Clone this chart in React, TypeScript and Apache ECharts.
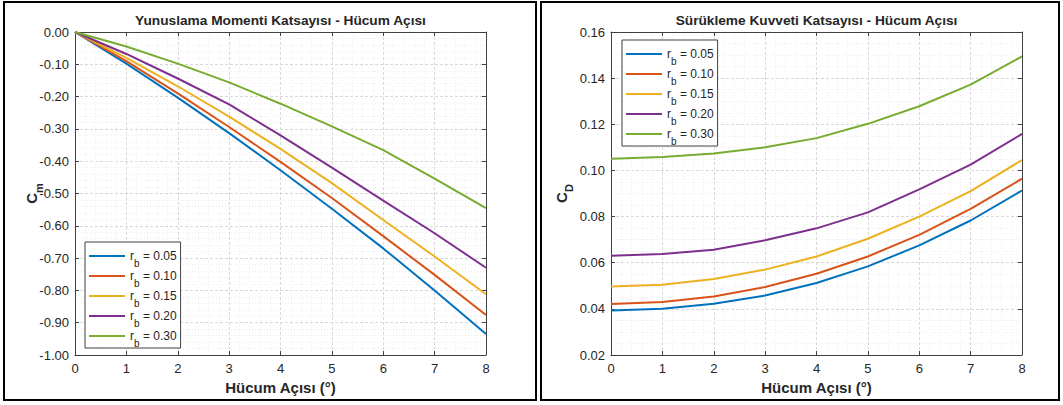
import React, { useEffect, useRef } from "react";
import * as echarts from "echarts";

const ANGLES = [0, 1, 2, 3, 4, 5, 6, 7, 8];
const RB_LABELS = ["0.05", "0.10", "0.15", "0.20", "0.30"];
const COLORS = ["#0072BD", "#D95319", "#EDB120", "#7E2F8E", "#77AC30"];

// Pitching moment coefficient C_m
const CM_005 = [0, -0.098, -0.203, -0.313, -0.428, -0.547, -0.670, -0.800, -0.935];
const CM_010 = [0, -0.090, -0.190, -0.294, -0.402, -0.514, -0.632, -0.752, -0.876];
const CM_015 = [0, -0.080, -0.168, -0.262, -0.362, -0.468, -0.582, -0.695, -0.812];
const CM_020 = [0, -0.068, -0.144, -0.224, -0.320, -0.420, -0.522, -0.623, -0.730];
const CM_030 = [0, -0.045, -0.098, -0.156, -0.222, -0.292, -0.366, -0.454, -0.545];

// Drag coefficient C_D
const CD_005 = [0.0393, 0.0400, 0.0422, 0.0458, 0.0512, 0.0584, 0.0675, 0.0783, 0.0913];
const CD_010 = [0.0421, 0.0430, 0.0454, 0.0495, 0.0552, 0.0627, 0.0721, 0.0833, 0.0964];
const CD_015 = [0.0497, 0.0505, 0.0529, 0.0570, 0.0627, 0.0704, 0.0800, 0.0910, 0.1045];
const CD_020 = [0.0630, 0.0638, 0.0656, 0.0697, 0.0749, 0.0818, 0.0918, 0.1025, 0.1158];
const CD_030 = [0.1051, 0.1058, 0.1073, 0.1100, 0.1140, 0.1202, 0.1278, 0.1372, 0.1494];

const CM_SERIES = [CM_005, CM_010, CM_015, CM_020, CM_030];
const CD_SERIES = [CD_005, CD_010, CD_015, CD_020, CD_030];

const TITLE_LEFT = "Yunuslama Momenti Katsayısı - Hücum Açısı";
const TITLE_RIGHT = "Sürükleme Kuvveti Katsayısı - Hücum Açısı";
const X_NAME = "Hücum Açısı (°)";

const FONT = "'Liberation Sans', Arial, Helvetica, sans-serif";
const TEXT = "#262626";
const AXIS = "#404040";

const seriesName = (lbl: string) => "r_b = " + lbl;

export default function App() {
  const ref = useRef<HTMLDivElement>(null);
  useEffect(() => {
    if (!ref.current) return;
    const chart = echarts.init(ref.current, null, { renderer: "svg" });

    const grids = [
      { left: 75, top: 32, width: 411, height: 323 },
      { left: 611, top: 32, width: 411, height: 323 },
    ];

    const xBottom = (g: number) => ({
      type: "value",
      gridIndex: g,
      min: 0,
      max: 8,
      interval: 1,
      position: "bottom",
      name: X_NAME,
      nameLocation: "middle",
      nameGap: 25,
      nameMoveOverlap: false,
      nameTextStyle: { fontSize: 15, fontWeight: "bold", color: TEXT, fontFamily: FONT },
      axisLine: { show: true, onZero: false, lineStyle: { color: AXIS, width: 1 } },
      axisTick: { show: true, inside: true, length: 4, lineStyle: { color: AXIS } },
      axisLabel: { fontSize: 13, color: TEXT, margin: 7, fontFamily: FONT },
      splitLine: { show: true, lineStyle: { color: "#d9d9d9", type: [3, 2], width: 1 } },
      minorTick: { show: false, splitNumber: 5 },
      minorSplitLine: { show: true, lineStyle: { color: "#ececec", type: [1, 2], width: 1 } },
    });
    const xTop = (g: number) => ({
      type: "value",
      gridIndex: g,
      min: 0,
      max: 8,
      interval: 1,
      position: "top",
      axisLine: { show: true, onZero: false, lineStyle: { color: AXIS, width: 1 } },
      axisTick: { show: true, inside: true, length: 4, lineStyle: { color: AXIS } },
      axisLabel: { show: false },
      splitLine: { show: false },
    });
    const yLeft = (g: number, min: number, max: number, interval: number, main: string, sub: string, minorSplit: number, gap: number) => ({
      type: "value",
      gridIndex: g,
      min,
      max,
      interval,
      position: "left",
      name: "{c|" + main + "}{s|" + sub + "}",
      nameLocation: "middle",
      nameGap: gap,
      nameRotate: 90,
      nameMoveOverlap: false,
      nameTextStyle: {
        color: TEXT,
        fontFamily: FONT,
        rich: {
          c: { fontSize: 15, fontWeight: "bold", color: TEXT, fontFamily: FONT, lineHeight: 22 },
          s: { fontSize: 11, fontWeight: "bold", color: TEXT, fontFamily: FONT, lineHeight: 22, padding: [16, 0, 0, 0] },
        },
      },
      axisLine: { show: true, onZero: false, lineStyle: { color: AXIS, width: 1 } },
      axisTick: { show: true, inside: true, length: 4, lineStyle: { color: AXIS } },
      axisLabel: { fontSize: 13, color: TEXT, margin: 6, fontFamily: FONT, formatter: (v: number) => v.toFixed(2) },
      splitLine: { show: true, lineStyle: { color: "#d9d9d9", type: [3, 2], width: 1 } },
      minorTick: { show: false, splitNumber: minorSplit },
      minorSplitLine: { show: true, lineStyle: { color: "#ececec", type: [1, 2], width: 1 } },
    });
    const yRight = (g: number, min: number, max: number, interval: number) => ({
      type: "value",
      gridIndex: g,
      min,
      max,
      interval,
      position: "right",
      axisLine: { show: true, onZero: false, lineStyle: { color: AXIS, width: 1 } },
      axisTick: { show: true, inside: true, length: 4, lineStyle: { color: AXIS } },
      axisLabel: { show: false },
      splitLine: { show: false },
    });

    const legendRich = {
      r: { fontSize: 12, color: TEXT, fontFamily: FONT, lineHeight: 20 },
      s: { fontSize: 10, color: TEXT, fontFamily: FONT, lineHeight: 20, padding: [14, 0, 0, 0] },
    };
    const legendCommon = {
      orient: "vertical",
      itemWidth: 36,
      itemHeight: 2,
      itemGap: -4,
      icon: "rect",
      padding: [2, 4, 0, 4],
      borderColor: AXIS,
      borderWidth: 1,
      backgroundColor: "#ffffff",
      data: RB_LABELS.map(seriesName),
      formatter: (name: string) => "{r|r}{s|b}{r| = " + name.split("= ")[1] + "}",
      textStyle: { color: TEXT, fontSize: 12, fontFamily: FONT, rich: legendRich },
    };

    const series: any[] = [];
    RB_LABELS.forEach((lbl, i) => {
      series.push({
        type: "line",
        name: seriesName(lbl),
        xAxisIndex: 0,
        yAxisIndex: 0,
        data: ANGLES.map((a, k) => [a, CM_SERIES[i][k]]),
        showSymbol: false,
        symbol: "none",
        itemStyle: { color: COLORS[i] },
        lineStyle: { color: COLORS[i], width: 2 },
      });
    });
    RB_LABELS.forEach((lbl, i) => {
      series.push({
        type: "line",
        name: seriesName(lbl),
        xAxisIndex: 2,
        yAxisIndex: 2,
        data: ANGLES.map((a, k) => [a, CD_SERIES[i][k]]),
        showSymbol: false,
        symbol: "none",
        itemStyle: { color: COLORS[i] },
        lineStyle: { color: COLORS[i], width: 2 },
      });
    });

    const option: any = {
      animation: false,
      backgroundColor: "#ffffff",
      grid: grids,
      xAxis: [xBottom(0), xTop(0), xBottom(1), xTop(1)],
      yAxis: [
        yLeft(0, -1, 0, 0.1, "C", "m", 5, 33),
        yRight(0, -1, 0, 0.1),
        yLeft(1, 0.02, 0.16, 0.02, "C", "D", 4, 39),
        yRight(1, 0.02, 0.16, 0.02),
      ],
      legend: [
        { ...legendCommon, left: 85, top: 242 },
        { ...legendCommon, left: 622, top: 40 },
      ],
      series,
      graphic: [
        {
          type: "rect",
          shape: { x: 4, y: 2, width: 532, height: 398 },
          style: { fill: "none", stroke: "#000000", lineWidth: 2 },
          silent: true,
          z: 100,
        },
        {
          type: "rect",
          shape: { x: 541, y: 2, width: 518, height: 398 },
          style: { fill: "none", stroke: "#000000", lineWidth: 2 },
          silent: true,
          z: 100,
        },
        {
          type: "text",
          x: 280.5,
          y: 20,
          style: { text: TITLE_LEFT, fontSize: 13.7, fontWeight: "bold", fontFamily: FONT, fill: TEXT, align: "center", verticalAlign: "middle" },
        },
        {
          type: "text",
          x: 816.5,
          y: 20,
          style: { text: TITLE_RIGHT, fontSize: 13.7, fontWeight: "bold", fontFamily: FONT, fill: TEXT, align: "center", verticalAlign: "middle" },
        },
      ],
    };
    chart.setOption(option);
    return () => chart.dispose();
  }, []);
  return <div ref={ref} style={{ position: "fixed", left: 0, top: 0, width: 1063, height: 405 }} />;
}
